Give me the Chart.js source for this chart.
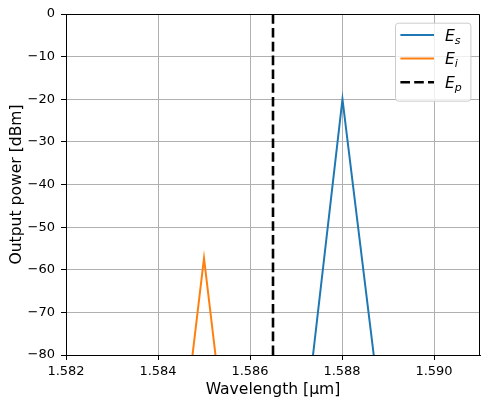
<!DOCTYPE html>
<html lang="en">
<head>
    <meta charset="UTF-8">
    <title>Output power vs wavelength</title>
    <style>
        body { margin: 0; background: #fff; }
        #wrap { width: 488px; height: 407px; }
    </style>
</head>
<body>
    <div id="wrap"><canvas id="powerChart"></canvas></div>

    <script src="https://cdn.jsdelivr.net/npm/chart.js"></script>
    <script>
        // values (wavelength in µm, power in dBm)
        const signalX = [1.58737, 1.58801, 1.58869];
        const signalY = [-80, -20, -80];
        const idlerX = [1.58475, 1.58500, 1.58525];
        const idlerY = [-80, -57.3, -80];
        const pumpX = [1.5865, 1.5865];
        const pumpY = [-80, 0];

        const seriesLabels = ['E_s', 'E_i', 'E_p'];
        const seriesColors = ['#1f77b4', '#ff7f0e', '#000000'];

        const xTicks = [1.582, 1.584, 1.586, 1.588, 1.590];
        const xMin = 1.582, xMax = 1.591;
        const yMin = -80, yMax = 0, yStep = 10;

        const toPoints = (xs, ys) => xs.map((x, i) => ({ x: x, y: ys[i] }));

        const font = '"DejaVu Sans", sans-serif';

        // top/right spines and the matplotlib style legend
        const frameAndLegend = {
            id: 'frameAndLegend',
            afterDraw(chart) {
                const ctx = chart.ctx;
                const a = chart.chartArea;
                ctx.save();
                ctx.strokeStyle = '#000';
                ctx.lineWidth = 1;
                ctx.beginPath();
                ctx.moveTo(a.left, a.top + 0.5);
                ctx.lineTo(a.right - 0.5, a.top + 0.5);
                ctx.lineTo(a.right - 0.5, a.bottom);
                ctx.stroke();

                const bx = a.right - 85, by = a.top + 8.7, bw = 75.4, bh = 78;
                ctx.beginPath();
                ctx.roundRect(bx + 0.5, by + 0.5, bw, bh, 3);
                ctx.fillStyle = 'rgba(255,255,255,0.8)';
                ctx.fill();
                ctx.strokeStyle = '#cccccc';
                ctx.stroke();

                chart.data.datasets.forEach((ds, i) => {
                    const ry = by + 12.3 + i * 23.6;
                    ctx.beginPath();
                    ctx.strokeStyle = ds.borderColor;
                    ctx.lineWidth = ds.borderWidth;
                    ctx.setLineDash(ds.borderDash || []);
                    ctx.moveTo(bx + 5.4, ry);
                    ctx.lineTo(bx + 39, ry);
                    ctx.stroke();
                    ctx.setLineDash([]);

                    const parts = ds.label.split('_');
                    ctx.fillStyle = '#000';
                    ctx.textBaseline = 'alphabetic';
                    ctx.textAlign = 'left';
                    ctx.font = 'italic 15.6px ' + font;
                    const tx = bx + 50;
                    ctx.fillText(parts[0], tx, ry + 5.5);
                    const w = ctx.measureText(parts[0]).width;
                    ctx.font = 'italic 11px ' + font;
                    ctx.fillText(parts[1], tx + w, ry + 8.5);
                });
                ctx.restore();
            }
        };

        const data = {
            datasets: [
                {
                    label: seriesLabels[0],
                    data: toPoints(signalX, signalY),
                    borderColor: seriesColors[0],
                    borderWidth: 2,
                    pointRadius: 0
                },
                {
                    label: seriesLabels[1],
                    data: toPoints(idlerX, idlerY),
                    borderColor: seriesColors[1],
                    borderWidth: 2,
                    pointRadius: 0
                },
                {
                    label: seriesLabels[2],
                    data: toPoints(pumpX, pumpY),
                    borderColor: seriesColors[2],
                    borderWidth: 2.6,
                    borderDash: [9.6, 4.2],
                    pointRadius: 0
                }
            ]
        };

        const config = {
            type: 'line',
            data: data,
            options: {
                responsive: true,
                maintainAspectRatio: false,
                animation: false,
                layout: { padding: { top: 14, right: 8, left: 0, bottom: 0 } },
                plugins: {
                    legend: { display: false },
                    tooltip: { enabled: false }
                },
                scales: {
                    x: {
                        type: 'linear',
                        min: xMin,
                        max: xMax,
                        afterBuildTicks: s => { s.ticks = xTicks.map(v => ({ value: v })); },
                        afterFit: s => { s.height = 52; },
                        grid: { color: '#b0b0b0', tickColor: '#000', tickLength: 5, lineWidth: 1 },
                        border: { color: '#000', width: 1 },
                        ticks: {
                            color: '#000',
                            font: { family: font, size: 13 },
                            padding: 4,
                            maxRotation: 0,
                            callback: v => v.toFixed(3)
                        },
                        title: {
                            display: true,
                            text: 'Wavelength [µm]',
                            color: '#000',
                            font: { family: font, size: 15.6 },
                            padding: { top: 8, bottom: 8 }
                        }
                    },
                    y: {
                        min: yMin,
                        max: yMax,
                        afterFit: s => { s.width = 66; },
                        grid: { color: '#b0b0b0', tickColor: '#000', tickLength: 5, lineWidth: 1 },
                        border: { color: '#000', width: 1 },
                        ticks: {
                            stepSize: yStep,
                            color: '#000',
                            font: { family: font, size: 13 },
                            padding: 6,
                            callback: v => v < 0 ? '\u2212' + Math.abs(v) : String(v)
                        },
                        title: {
                            display: true,
                            text: 'Output power [dBm]',
                            color: '#000',
                            font: { family: font, size: 15.6 },
                            padding: { top: 8, bottom: 8 }
                        }
                    }
                }
            },
            plugins: [frameAndLegend]
        };

        const powerChart = new Chart(document.getElementById('powerChart'), config);
    </script>
</body>
</html>
